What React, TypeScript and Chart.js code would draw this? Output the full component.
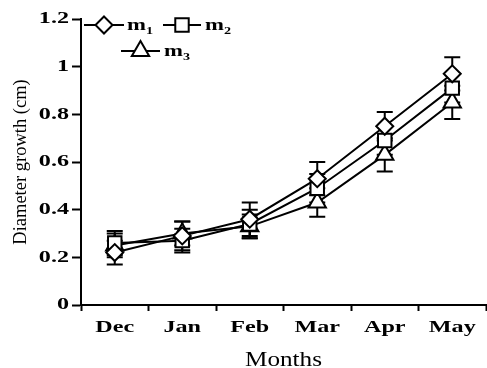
import React, { useEffect, useRef } from "react";
import { Chart, registerables } from "chart.js";

Chart.register(...registerables);

const months = ["Dec", "Jan", "Feb", "Mar", "Apr", "May"];
const m1 = [0.22, 0.29, 0.36, 0.53, 0.75, 0.97];
const m2 = [0.26, 0.27, 0.34, 0.49, 0.69, 0.91];
const m3 = [0.25, 0.3, 0.33, 0.43, 0.63, 0.85];
const e1 = [0.05, 0.06, 0.07, 0.07, 0.06, 0.07];
const e2 = [0.05, 0.05, 0.06, 0.06, 0.06, 0.06];
const e3 = [0.05, 0.05, 0.05, 0.06, 0.07, 0.07];
const seriesNames = ["m", "m", "m"];
const seriesSubs = ["1", "2", "3"];
const yTitle = "Diameter growth (cm)";
const xTitle = "Months";

const SERIF = "'Liberation Serif', 'Times New Roman', serif";

// widen horizontal text glyphs (the reference uses a wide serif face)
const textStretchPlugin = {
  id: "textStretch",
  beforeDraw(chart: any) {
    const ctx = chart.ctx;
    if (ctx.__stretched) return;
    ctx.__stretched = true;
    const orig = ctx.fillText.bind(ctx);
    ctx.fillText = (text: string, x: number, y: number, maxWidth?: number) => {
      const t = ctx.getTransform();
      if (Math.abs(t.b) < 1e-6 && Math.abs(t.c) < 1e-6) {
        const sx = /bold/.test(ctx.font) ? 1.42 : 1.26;
        ctx.save();
        ctx.translate(x, y);
        ctx.scale(sx, 1);
        orig(text, 0, 0);
        ctx.restore();
      } else if (maxWidth !== undefined) {
        orig(text, x, y, maxWidth);
      } else {
        orig(text, x, y);
      }
    };
  },
};

const errorBarPlugin = {
  id: "errorBars",
  beforeDatasetsDraw(chart: any) {
    const ctx = chart.ctx;
    const y = chart.scales.y;
    ctx.save();
    ctx.strokeStyle = "#000";
    ctx.lineWidth = 2;
    chart.data.datasets.forEach((ds: any, di: number) => {
      const meta = chart.getDatasetMeta(di);
      ds.data.forEach((v: number, i: number) => {
        const e = ds.errors[i];
        const px = meta.data[i].x;
        const top = y.getPixelForValue(v + e);
        const bot = y.getPixelForValue(v - e);
        const cap = 8;
        ctx.beginPath();
        ctx.moveTo(px, top);
        ctx.lineTo(px, bot);
        ctx.moveTo(px - cap, top);
        ctx.lineTo(px + cap, top);
        ctx.moveTo(px - cap, bot);
        ctx.lineTo(px + cap, bot);
        ctx.stroke();
      });
    });
    ctx.restore();
  },
};

function drawMarker(ctx: CanvasRenderingContext2D, style: string, r: number, x: number, y: number) {
  ctx.beginPath();
  if (style === "rectRot") {
    ctx.moveTo(x, y - r);
    ctx.lineTo(x + r, y);
    ctx.lineTo(x, y + r);
    ctx.lineTo(x - r, y);
    ctx.closePath();
  } else if (style === "rect") {
    const s = Math.SQRT1_2 * r;
    ctx.rect(x - s, y - s, 2 * s, 2 * s);
  } else {
    for (let k = 0; k < 3; k++) {
      const ang = -Math.PI / 2 + (k * 2 * Math.PI) / 3;
      const px = x + Math.cos(ang) * r;
      const py = y + Math.sin(ang) * r;
      if (k === 0) ctx.moveTo(px, py);
      else ctx.lineTo(px, py);
    }
    ctx.closePath();
  }
  ctx.fill();
  ctx.stroke();
}

const legendPlugin = {
  id: "customLegend",
  afterDraw(chart: any) {
    const ctx = chart.ctx;
    const { left, top } = chart.chartArea;
    const items = [
      { x0: left + 3, x1: left + 43, y: top + 6, tx: left + 46 },
      { x0: left + 82, x1: left + 120, y: top + 6, tx: left + 124 },
      { x0: left + 40, x1: left + 79, y: top + 32, tx: left + 83 },
    ];
    ctx.save();
    chart.data.datasets.forEach((ds: any, i: number) => {
      const it = items[i];
      ctx.strokeStyle = "#000";
      ctx.lineWidth = 2;
      ctx.beginPath();
      ctx.moveTo(it.x0, it.y);
      ctx.lineTo(it.x1, it.y);
      ctx.stroke();
      const cx = (it.x0 + it.x1) / 2;
      ctx.fillStyle = "#fff";
      drawMarker(ctx, ds.pointStyle, ds.pointRadius, cx, it.y);
      ctx.fillStyle = "#000";
      ctx.textBaseline = "alphabetic";
      ctx.textAlign = "left";
      ctx.font = `bold 16px ${SERIF}`;
      ctx.fillText(seriesNames[i], it.tx, it.y + 5);
      const w = ctx.measureText(seriesNames[i]).width * 1.42;
      ctx.font = `bold 10px ${SERIF}`;
      ctx.fillText(seriesSubs[i], it.tx + w, it.y + 9);
    });
    ctx.restore();
  },
};

export default function App() {
  const ref = useRef<HTMLCanvasElement>(null);
  useEffect(() => {
    if (!ref.current) return;
    const mk = (label: string, data: number[], errors: number[], style: string, r: number) => ({
      label,
      data,
      errors,
      borderColor: "#000",
      borderWidth: 2,
      pointStyle: style,
      pointRadius: r,
      pointBackgroundColor: "#fff",
      pointBorderColor: "#000",
      pointBorderWidth: 2,
      tension: 0,
      fill: false,
    });
    const chart = new Chart(ref.current, {
      type: "line",
      data: {
        labels: months,
        datasets: [
          mk("m1", m1, e1, "rectRot", 8.5),
          mk("m2", m2, e2, "rect", 9.5),
          mk("m3", m3, e3, "triangle", 10),
        ] as any,
      },
      options: {
        animation: false,
        responsive: false,
        devicePixelRatio: 1,
        layout: { autoPadding: false, padding: { top: 19, right: 1, left: 0, bottom: 0 } },
        plugins: { legend: { display: false }, tooltip: { enabled: false } },
        scales: {
          x: {
            type: "category",
            offset: true,
            grid: {
              offset: true,
              drawOnChartArea: false,
              drawTicks: true,
              tickLength: 6,
              tickWidth: 2,
              tickColor: "#000",
            },
            border: { display: true, color: "#000", width: 2 },
            ticks: {
              color: "#000",
              font: { family: SERIF, size: 17, weight: "bold" },
              padding: 6,
              maxRotation: 0,
            },
            title: {
              display: true,
              text: xTitle,
              color: "#000",
              font: { family: SERIF, size: 20, lineHeight: 0.7 },
              padding: { top: 0, bottom: 0 },
            },
            afterFit(scale: any) {
              scale.height = 63;
              scale.paddingLeft = 0;
              scale.paddingRight = 0;
            },
          } as any,
          y: {
            min: 0,
            max: 1.2,
            ticks: {
              stepSize: 0.2,
              color: "#000",
              font: { family: SERIF, size: 17, weight: "bold" },
              padding: 3,
              callback: (v: any) => String(Number(Number(v).toFixed(2))),
            },
            grid: {
              drawOnChartArea: false,
              drawTicks: true,
              tickLength: 9,
              tickWidth: 2,
              tickColor: "#000",
            },
            border: { display: true, color: "#000", width: 2 },
            title: {
              display: true,
              text: yTitle,
              color: "#000",
              font: { family: SERIF, size: 18.5 },
              padding: { top: 10, bottom: 0 },
            },
            afterFit(scale: any) {
              scale.width = 81;
            },
          } as any,
        },
      },
      plugins: [textStretchPlugin, errorBarPlugin, legendPlugin],
    });
    return () => chart.destroy();
  }, []);
  return (
    <div style={{ position: "fixed", left: 0, top: 0, width: 487, height: 368, background: "#fff" }}>
      <canvas ref={ref} width={487} height={368} style={{ width: 487, height: 368 }} />
    </div>
  );
}
